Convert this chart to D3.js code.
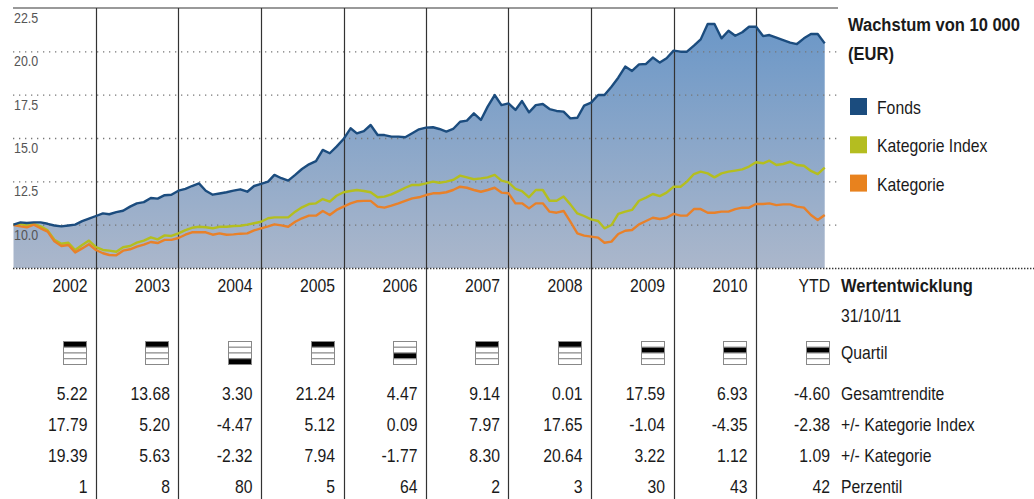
<!DOCTYPE html>
<html>
<head>
<meta charset="utf-8">
<script src="https://cdn.jsdelivr.net/npm/d3@7"></script>
<style>
  body { margin: 0; background: #fff; }
  svg text { font-family: "Liberation Sans", Arial, sans-serif; fill: #1a1a1a; }
</style>
</head>
<body>
<script>
// monthly growth of 10 000 (in thousands), Jan 2002 .. Oct 2011
const fonds = [
  10.0, 10.13, 10.1, 10.13, 10.13, 10.05, 9.95, 9.9, 9.95, 10.0, 10.2, 10.35,
  10.5, 10.65, 10.6, 10.72, 10.8, 11.04, 11.23, 11.3, 11.54, 11.5, 11.7, 11.73,
  11.96, 12.07, 12.23, 12.38, 11.96, 11.73, 11.8, 11.87, 11.96, 12.04, 11.9, 12.23,
  12.35, 12.48, 12.87, 12.68, 12.54, 12.87, 13.21, 13.48, 13.67, 14.31, 14.12, 14.5,
  14.94, 15.56, 15.27, 15.4, 15.75, 15.17, 15.17, 15.08, 15.08, 15.04, 15.27, 15.5,
  15.6, 15.62, 15.52, 15.37, 15.52, 15.94, 16.0, 16.42, 16.04, 16.81, 17.48, 16.9,
  17.0, 16.62, 17.13, 16.48, 16.9, 16.96, 16.67, 16.56, 16.52, 16.13, 16.17, 16.87,
  17.04, 17.48, 17.48, 17.96, 18.48, 19.12, 18.87, 19.25, 19.27, 19.64, 19.35, 19.6,
  20.04, 19.98, 19.98, 20.33, 20.69, 21.58, 21.58, 20.75, 21.19, 20.9, 21.1, 21.42,
  21.42, 20.88, 20.94, 20.79, 20.65, 20.5, 20.42, 20.75, 21.0, 21.0, 20.46
];
const katIndexLine = [
  10.0, 10.05, 9.94, 10.05, 9.9, 9.67, 9.13, 8.9, 8.96, 8.54, 8.83, 9.08,
  8.7, 8.54, 8.5, 8.44, 8.7, 8.77, 8.96, 9.08, 9.27, 9.15, 9.38, 9.35,
  9.5, 9.69, 9.82, 9.88, 9.85, 9.79, 9.88, 9.88, 9.92, 9.94, 10.0, 10.08,
  10.17, 10.37, 10.42, 10.42, 10.42, 10.75, 11.0, 11.19, 11.23, 11.48, 11.33, 11.67,
  11.87, 11.94, 12.0, 11.94, 11.87, 11.58, 11.62, 11.75, 11.94, 12.13, 12.29, 12.29,
  12.38, 12.48, 12.42, 12.48, 12.58, 12.83, 12.73, 12.62, 12.67, 12.73, 12.87, 12.54,
  12.44, 12.06, 11.94, 11.58, 12.0, 12.0, 11.38, 11.38, 11.62, 11.17, 10.65, 10.5,
  10.31, 10.21, 9.79, 9.98, 10.62, 10.75, 10.85, 11.38, 11.56, 11.77, 11.65, 11.85,
  12.19, 12.19, 12.48, 12.92, 13.06, 12.96, 12.73, 12.96, 13.06, 13.12, 13.19, 13.35,
  13.6, 13.54, 13.69, 13.44, 13.5, 13.63, 13.44, 13.4, 13.1, 12.92, 13.29
];
const kategorieLine = [
  9.97, 9.9, 9.85, 10.0, 9.79, 9.6, 9.04, 8.77, 8.83, 8.4, 8.63, 8.87,
  8.54, 8.35, 8.25, 8.23, 8.5, 8.58, 8.73, 8.85, 9.0, 8.94, 9.12, 9.12,
  9.23, 9.42, 9.56, 9.56, 9.56, 9.42, 9.5, 9.42, 9.44, 9.48, 9.5, 9.67,
  9.79, 9.9, 10.02, 9.96, 9.88, 10.17, 10.37, 10.52, 10.52, 10.79, 10.56, 10.85,
  11.04, 11.23, 11.35, 11.37, 11.37, 11.04, 10.98, 11.1, 11.23, 11.37, 11.52, 11.58,
  11.71, 11.81, 11.81, 11.87, 12.0, 12.19, 12.13, 12.0, 11.9, 12.0, 12.13, 11.85,
  11.81, 11.23, 11.23, 10.94, 11.23, 11.23, 10.75, 10.69, 10.79, 10.17, 9.5, 9.37,
  9.31, 9.25, 8.96, 9.02, 9.46, 9.65, 9.69, 10.02, 10.21, 10.4, 10.33, 10.4,
  10.62, 10.52, 10.52, 10.9, 10.9, 10.69, 10.69, 10.75, 10.75, 10.9, 10.98, 10.98,
  11.19, 11.19, 11.23, 11.13, 11.17, 11.17, 11.04, 10.98, 10.56, 10.27, 10.56
];

const yTicks = [10.0, 12.5, 15.0, 17.5, 20.0, 22.5];

// table below the chart
const years = ["2002", "2003", "2004", "2005", "2006", "2007", "2008", "2009", "2010", "YTD"];
const quartil = [1, 1, 4, 1, 3, 1, 1, 2, 2, 2];
const gesamtrendite = ["5.22", "13.68", "3.30", "21.24", "4.47", "9.14", "0.01", "17.59", "6.93", "-4.60"];
const vsKatIndex = ["17.79", "5.20", "-4.47", "5.12", "0.09", "7.97", "17.65", "-1.04", "-4.35", "-2.38"];
const vsKategorie = ["19.39", "5.63", "-2.32", "7.94", "-1.77", "8.30", "20.64", "3.22", "1.12", "1.09"];
const perzentil = ["1", "8", "80", "5", "64", "2", "3", "30", "43", "42"];
const rowLabels = ["Gesamtrendite", "+/- Kategorie Index", "+/- Kategorie", "Perzentil"];

const legendItems = ["Fonds", "Kategorie Index", "Kategorie"];
const colors = { fonds: "#1b4c7e", index: "#b4be1f", kat: "#e8812a" };

const svg = d3.select("body").append("svg")
    .attr("width", 1034)
    .attr("height", 499);

// no condensed font installed, so squeeze Liberation Sans sideways
function narrow(sel, k) {
    sel.each(function () {
        const t = d3.select(this);
        const tx = +t.attr("x"), ty = +t.attr("y");
        t.attr("x", null).attr("y", null)
            .attr("transform", `translate(${tx},${ty}) scale(${k || 0.83},1)`);
    });
}

const start = new Date(2002, 0, 1);
const x = d3.scaleTime()
    .domain([start, new Date(2012, 0, 1)])
    .range([13.5, 838.5]);
const y = d3.scaleLinear()
    .domain([7.5, 22.5])
    .range([268, 8]);

const date = (i) => d3.timeMonth.offset(start, i);

// gradient for the fonds area
const grad = svg.append("defs").append("linearGradient")
    .attr("id", "fondsGrad")
    .attr("gradientUnits", "userSpaceOnUse")
    .attr("x1", 0).attr("x2", 0)
    .attr("y1", y(22.5)).attr("y2", y(7.5));
grad.append("stop").attr("offset", "0%").attr("stop-color", "#6795c7");
grad.append("stop").attr("offset", "100%").attr("stop-color", "#abb7cb");

svg.append("path")
    .datum(fonds)
    .attr("d", d3.area()
        .x((d, i) => x(date(i)))
        .y0(y(7.5))
        .y1((d) => y(d)))
    .style("fill", "url(#fondsGrad)");

// dotted horizontal gridlines
svg.selectAll(".grid")
    .data(yTicks.slice(0, -1))
    .enter()
    .append("line")
    .attr("class", "grid")
    .attr("x1", 13).attr("x2", 838)
    .attr("y1", (d) => y(d) + 0.5).attr("y2", (d) => y(d) + 0.5)
    .style("stroke", "#777")
    .style("stroke-width", 1.3)
    .style("stroke-dasharray", "1.3,4.7");

// top border
svg.append("line")
    .attr("x1", 13).attr("x2", 838)
    .attr("y1", y(22.5)).attr("y2", y(22.5))
    .style("stroke", "#777")
    .style("stroke-width", 1.6);

// bottom dotted line across the whole width
svg.append("line")
    .attr("x1", 13).attr("x2", 1034)
    .attr("y1", y(7.5) + 0.5).attr("y2", y(7.5) + 0.5)
    .style("stroke", "#333")
    .style("stroke-width", 1.4)
    .style("stroke-dasharray", "1.4,1.6");

// y labels
svg.selectAll(".ylab")
    .data(yTicks)
    .enter()
    .append("text")
    .attr("x", 14)
    .attr("y", (d) => y(d) + 15)
    .style("font-size", "15px")
    .style("fill", "#555")
    .text((d) => d.toFixed(1))
    .call(narrow);

// year separators run through chart and table
const bounds = d3.range(2003, 2012).map((yr) => new Date(yr, 0, 1));
svg.selectAll(".sep")
    .data(bounds)
    .enter()
    .append("line")
    .attr("x1", (d) => Math.round(x(d)) + 0.5)
    .attr("x2", (d) => Math.round(x(d)) + 0.5)
    .attr("y1", y(22.5))
    .attr("y2", 499)
    .style("stroke", "#333")
    .style("stroke-width", 1.2);

const line = d3.line()
    .x((d, i) => x(date(i)))
    .y((d) => y(d));

[[katIndexLine, colors.index], [kategorieLine, colors.kat], [fonds, colors.fonds]].forEach(([s, c]) => {
    svg.append("path")
        .datum(s)
        .attr("d", line)
        .style("fill", "none")
        .style("stroke", c)
        .style("stroke-width", 2.4)
        .style("stroke-linejoin", "round");
});

// legend
svg.append("text").attr("x", 848).attr("y", 31)
    .style("font-size", "19px").style("font-weight", "bold")
    .text("Wachstum von 10 000")
    .call(narrow, 0.87);
svg.append("text").attr("x", 848).attr("y", 60)
    .style("font-size", "19px").style("font-weight", "bold")
    .text("(EUR)")
    .call(narrow, 0.87);

const legColors = [colors.fonds, "#b4bd20", "#e8821e"];
const leg = svg.selectAll(".leg")
    .data(legendItems)
    .enter()
    .append("g")
    .attr("transform", (d, i) => `translate(850,${98 + i * 38.3})`);
leg.append("rect")
    .attr("width", 17).attr("height", 17)
    .style("fill", (d, i) => legColors[i]);
leg.append("text")
    .attr("x", 27).attr("y", 16)
    .style("font-size", "19px")
    .text((d) => d)
    .call(narrow);

// table
const colRight = (i) => x(new Date(2003 + i, 0, 1)) - 8.5;

svg.selectAll(".year")
    .data(years)
    .enter()
    .append("text")
    .attr("x", (d, i) => colRight(i))
    .attr("y", 292)
    .attr("text-anchor", "end")
    .style("font-size", "19px")
    .text((d) => d)
    .call(narrow);

svg.append("text").attr("x", 841).attr("y", 292)
    .style("font-size", "19px").style("font-weight", "bold")
    .text("Wertentwicklung")
    .call(narrow, 0.87);
svg.append("text").attr("x", 841).attr("y", 322)
    .style("font-size", "19px")
    .text("31/10/11")
    .call(narrow);

// quartile boxes
const qBox = svg.selectAll(".qbox")
    .data(quartil)
    .enter()
    .append("g")
    .attr("transform", (d, i) => `translate(${Math.round(colRight(i) - 24.5)},341)`);
qBox.selectAll("rect")
    .data((q) => d3.range(1, 5).map((k) => k === q))
    .enter()
    .append("rect")
    .attr("x", 0.5)
    .attr("y", (d, k) => 0.5 + k * 5.75)
    .attr("width", 23)
    .attr("height", 5.75)
    .style("fill", (d) => d ? "#000" : "#fff")
    .style("stroke", "#888")
    .style("stroke-width", 1);
svg.append("text").attr("x", 841).attr("y", 359)
    .style("font-size", "19px")
    .text("Quartil")
    .call(narrow);

const rows = [gesamtrendite, vsKatIndex, vsKategorie, perzentil];
rows.forEach((vals, r) => {
    const yy = 400 + r * 31;
    svg.selectAll(".row" + r)
        .data(vals)
        .enter()
        .append("text")
        .attr("x", (d, i) => colRight(i))
        .attr("y", yy)
        .attr("text-anchor", "end")
        .style("font-size", "19px")
        .text((d) => d)
        .call(narrow);
    svg.append("text")
        .attr("x", 841).attr("y", yy)
        .style("font-size", "19px")
        .text(rowLabels[r])
        .call(narrow);
});
</script>
</body>
</html>
